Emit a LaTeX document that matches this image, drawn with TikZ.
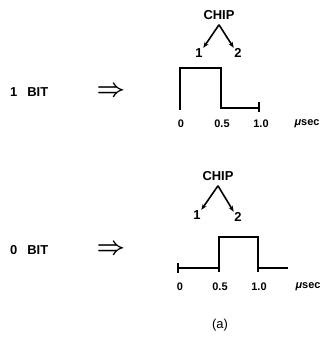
\documentclass[tikz,border=0pt]{standalone}
\usepackage{fontspec}
\setmainfont{Liberation Sans}
\usetikzlibrary{arrows.meta, positioning}

\begin{document}
\begin{tikzpicture}[
  x=1bp, y=-1bp,
  bitlbl/.style={anchor=west, font=\fontsize{13}{15}\selectfont\bfseries, inner sep=0pt},
  implies/.style={font=\fontsize{25}{27}\selectfont\boldmath, inner sep=0pt},
  chiplbl/.style={font=\fontsize{13}{15}\selectfont\bfseries, inner sep=1pt},
  numlbl/.style={font=\fontsize{13}{15}\selectfont\bfseries, inner sep=0.5pt},
  ticklbl/.style={font=\fontsize{11}{13}\selectfont\bfseries, inner sep=0pt},
  pulse/.style={line width=2bp, line join=miter},
  arr/.style={-{Stealth[length=6bp,width=4.5bp]}, line width=1.6bp},
]
  \useasboundingbox (0,0) rectangle (333,337);

  % 1 bit
  \node[bitlbl]  (bit1) at (10,92) {1\hspace{10bp}BIT};
  \node[implies] (imp1) at (111,92) {$\Rightarrow$};
  \node[chiplbl] (chip1) at (219,15) {CHIP};
  \coordinate[below=4bp of chip1] (apex1);
  \node[numlbl] (c1a) at (199,53) {1};
  \node[numlbl] (c1b) at (238,53) {2};
  \draw[arr] (apex1) -- (c1a.north east);
  \draw[arr] (apex1) -- (c1b.north west);

  \coordinate (t1a) at (180,110);
  \coordinate (t1b) at (221,108);
  \coordinate (t1c) at (259,108);
  \draw[pulse] (t1a) -- (180,68) -- (221,68) -- (t1b) -- (t1c);
  \draw[pulse] (259,102) -- (259,112);
  \node[ticklbl] (l1a) at (181,124) {0};
  \node[ticklbl] (l1b) at (222,124) {0.5};
  \node[ticklbl] (l1c) at (261,124) {1.0};
  \node[ticklbl] (l1u) at (307,124) {{\itshape μ}sec};

  % 0 bit
  \node[bitlbl]  (bit0) at (10,250) {0\hspace{10bp}BIT};
  \node[implies] (imp0) at (111,250) {$\Rightarrow$};
  \node[chiplbl] (chip0) at (218,176) {CHIP};
  \coordinate[below=4bp of chip0] (apex0);
  \node[numlbl] (c0a) at (197,215) {1};
  \node[numlbl] (c0b) at (238,217) {2};
  \draw[arr] (apex0) -- (c0a.north east);
  \draw[arr] (apex0) -- (c0b.north west);

  \coordinate (t0a) at (178,268);
  \coordinate (t0b) at (219,268);
  \coordinate (t0c) at (258,268);
  \draw[pulse] (t0a) -- (t0b) -- (219,237) -- (258,237) -- (t0c) -- (288,268);
  \draw[pulse] (178,263) -- (178,273);
  \draw[pulse] (219,268) -- (219,272);
  \draw[pulse] (258,268) -- (258,272);
  \node[ticklbl] (l0a) at (180,287) {0};
  \node[ticklbl] (l0b) at (220,287) {0.5};
  \node[ticklbl] (l0c) at (259,287) {1.0};
  \node[ticklbl] (l0u) at (308,287) {{\itshape μ}sec};

  \node[font=\fontsize{13}{15}\selectfont] (cap) at (220,325) {(a)};
\end{tikzpicture}
\end{document}
